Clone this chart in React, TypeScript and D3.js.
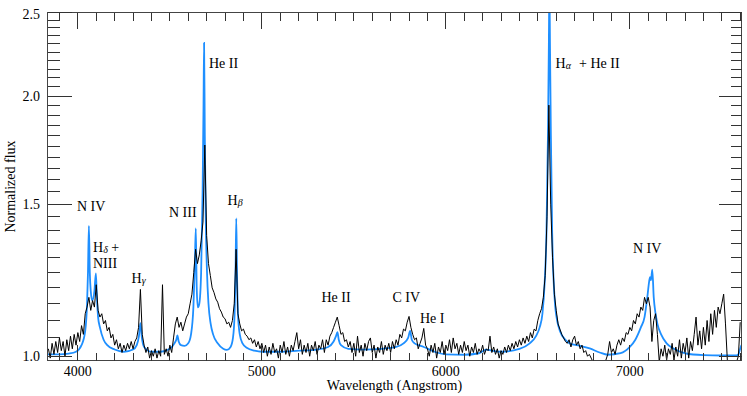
import React from "react";
import * as d3 from "d3";

// observed spectrum, sampled every 10 A starting at 3840 A
const obsStart = 3840;
const obsStep = 10;
const obsA = [
  1.02, 0.995, 1.035, 1.005, 1.04, 1.01, 1.05, 1.015, 1.04, 1.0,
  1.045, 1.015, 1.055, 1.02, 1.06, 1.03, 1.065, 1.04, 1.085, 1.06,
  1.12, 1.14, 1.17, 1.13, 1.16, 1.14, 1.21, 1.13, 1.11, 1.12,
  1.09, 1.1, 1.07, 1.08, 1.05, 1.06, 1.03, 1.045, 1.02, 1.035,
  1.01, 1.03, 1.015, 1.035, 1.02, 1.04, 1.02, 1.04, 1.05, 1.08,
];
const obsB = [
  1.195, 1.06, 1.03, 1.01, 1.025, 0.995, 1.015, 1.0, 1.02, 0.995,
  1.015, 1.0, 1.21, 1.005, 1.02, 1.0, 1.03, 1.01, 1.05, 1.09,
  1.11, 1.08, 1.095, 1.07, 1.09, 1.11, 1.12, 1.15, 1.18, 1.25,
  1.33, 1.28, 1.31, 1.36, 1.43, 1.756, 1.38, 1.28, 1.24, 1.2,
  1.185, 1.165, 1.155, 1.135, 1.125, 1.11, 1.105, 1.09, 1.095, 1.08,
];
const obsC = [
  1.1, 1.15, 1.33, 1.12, 1.09, 1.07, 1.075, 1.06, 1.055, 1.045,
  1.05, 1.035, 1.045, 1.025, 1.04, 1.02, 1.035, 1.01, 1.03, 1.0,
  1.025, 1.005, 1.035, 1.01, 1.02, 0.995, 1.03, 1.01, 1.04, 1.005,
  1.025, 1.0, 1.03, 1.015, 1.04, 1.065, 1.02, 1.045, 1.005, 1.03,
  1.01, 1.035, 1.0, 1.03, 1.015, 1.04, 1.005, 1.03, 1.02, 1.045,
];
const obsD = [
  1.01, 1.045, 1.03, 1.055, 1.065, 1.08, 1.095, 1.11, 1.085, 1.06,
  1.065, 1.04, 1.045, 1.025, 1.04, 1.01, 1.035, 1.0, 1.055, 1.01,
  1.03, 1.0, 1.035, 1.015, 1.04, 1.05, 1.01, 1.03, 0.995, 1.025,
  1.01, 1.04, 1.005, 1.03, 1.015, 1.035, 1.01, 1.04, 1.02, 1.045,
  1.03, 1.06, 1.05, 1.075, 1.07, 1.095, 1.112, 1.08, 1.06, 1.045,
];
const obsE = [
  1.05, 1.02, 1.035, 1.05, 1.077, 1.03, 1.02, 1.0, 1.03, 1.01,
  1.035, 0.995, 1.025, 1.01, 1.04, 1.005, 1.03, 1.015, 1.045, 1.01,
  1.05, 1.02, 1.035, 1.005, 1.03, 1.01, 1.04, 1.015, 1.03, 1.0,
  1.025, 1.01, 1.035, 1.005, 1.02, 1.01, 1.03, 1.005, 1.02, 1.015,
  1.055, 1.01, 1.025, 1.005, 1.02, 0.995, 1.015, 1.005, 1.025, 1.01,
];
const obsF = [
  1.03, 1.015, 1.035, 1.02, 1.04, 1.025, 1.045, 1.03, 1.05, 1.035,
  1.055, 1.04, 1.065, 1.05, 1.075, 1.07, 1.1, 1.12, 1.135, 1.17,
  1.24, 1.45, 1.953, 1.5, 1.3, 1.18, 1.13, 1.09, 1.075, 1.06,
  1.05, 1.04, 1.035, 1.045, 1.025, 1.045, 1.055, 1.03, 1.04, 1.02,
  1.03, 1.01, 1.015, 1.0, 1.005, 0.995, 0.985, 0.98, 0.98, 0.975,
];
const obsG = [
  0.98, 0.975, 0.98, 0.99, 1.005, 1.04, 1.01, 1.02, 1.005, 1.03,
  1.045, 1.03, 1.05, 1.04, 1.065, 1.06, 1.08, 1.07, 1.1, 1.09,
  1.12, 1.11, 1.14, 1.13, 1.17, 1.15, 1.17, 1.14, 1.04, 1.1,
  1.12, 1.06, 0.985, 1.02, 1.0, 1.03, 0.99, 1.02, 1.005, 1.035,
  0.99, 1.025, 1.0, 1.045, 0.995, 1.035, 1.01, 1.05, 0.995, 1.04,
];
const obsH = [
  1.015, 1.06, 1.11, 1.03, 1.07, 1.02, 1.08, 1.03, 1.1, 1.04,
  1.12, 1.06, 1.13, 1.08, 1.14, 1.12, 1.15, 1.18, 1.09, 0.99,
  0.98, 0.98, 0.98, 0.98, 0.985, 1.0, 1.095,
];

// model spectrum
const modelWave = [
  3835, 3900, 3950, 3990, 4020, 4040, 4050, 4055, 4060, 4065,
  4070, 4078, 4090, 4098, 4104, 4110, 4120, 4140, 4160, 4200,
  4250, 4300, 4320, 4332, 4340, 4348, 4360, 4400, 4450, 4500,
  4525, 4535, 4541, 4548, 4560, 4580, 4600, 4615, 4628, 4636,
  4641, 4646, 4652, 4660, 4670, 4678, 4683, 4686, 4690, 4695,
  4702, 4710, 4722, 4735, 4760, 4790, 4810, 4830, 4843, 4852,
  4857, 4861, 4865, 4870, 4880, 4895, 4920, 4960, 5000, 5100,
  5200, 5300, 5360, 5390, 5403, 5411, 5418, 5430, 5470, 5550,
  5650, 5730, 5770, 5795, 5806, 5815, 5830, 5880, 5950, 6000,
  6100, 6180, 6220, 6250, 6300, 6400, 6456, 6490, 6510, 6525,
  6537, 6547, 6555, 6560, 6563, 6566, 6571, 6578, 6592, 6605,
  6620, 6650, 6673, 6728, 6782, 6836, 6880, 6950, 7000, 7030,
  7060, 7080, 7095, 7105, 7110, 7115, 7122, 7130, 7140, 7150,
  7170, 7200, 7240, 7300, 7400, 7500, 7580, 7590, 7600, 7607,
];
const modelFlux = [
  1.005, 1.005, 1.007, 1.012, 1.03, 1.07, 1.15, 1.25, 1.415, 1.25,
  1.19, 1.16, 1.19, 1.247, 1.16, 1.11, 1.08, 1.045, 1.03, 1.018,
  1.012, 1.018, 1.03, 1.055, 1.092, 1.05, 1.025, 1.012, 1.012, 1.02,
  1.035, 1.045, 1.057, 1.04, 1.03, 1.028, 1.035, 1.06, 1.14, 1.28,
  1.406, 1.2, 1.139, 1.15, 1.25, 1.55, 1.95, 2.306, 1.8, 1.45,
  1.25, 1.15, 1.09, 1.06, 1.035, 1.02, 1.017, 1.025, 1.05, 1.12,
  1.25, 1.444, 1.25, 1.12, 1.06, 1.035, 1.022, 1.015, 1.012, 1.012,
  1.015, 1.018, 1.025, 1.04, 1.055, 1.066, 1.045, 1.03, 1.02, 1.018,
  1.02, 1.025, 1.035, 1.05, 1.07, 1.045, 1.035, 1.025, 1.01, 1.005,
  1.004, 1.008, 1.018, 1.015, 1.012, 1.02, 1.035, 1.055, 1.08, 1.12,
  1.215, 1.39, 1.8, 2.3, 2.7, 2.3, 1.8, 1.39, 1.16, 1.1,
  1.07, 1.045, 1.035, 1.028, 1.021, 1.01, 1.004, 1.008, 1.025, 1.045,
  1.08, 1.11, 1.17, 1.22, 1.235, 1.225, 1.26, 1.17, 1.12, 1.09,
  1.06, 1.035, 1.02, 1.008, 1.003, 1.002, 1.002, 1.005, 1.02, 1.03,
];

const xMajorTicks = [4000, 5000, 6000, 7000];
const yMajorTicks = [1.0, 1.5, 2.0, 2.5];
const yTickLabels = ["1.0", "1.5", "2.0", "2.5"];

const xLabel = "Wavelength (Angstrom)";
const yLabel = "Normalized flux";

const left = 47.5, right = 741.5, top = 12.5, bottom = 360.5;
const serif = "Liberation Serif, DejaVu Serif, serif";

export default function App() {
  const x = d3.scaleLinear().domain([3835, 7607]).range([left, right]);
  const y = d3.scaleLog().domain([0.9887, 2.5]).range([bottom, top]);

  const obsFlux = [...obsA, ...obsB, ...obsC, ...obsD, ...obsE, ...obsF, ...obsG, ...obsH];
  const observed: [number, number][] = obsFlux.map((f, i) => [obsStart + i * obsStep, f]);
  const model: [number, number][] = modelWave.map((w, i) => [w, modelFlux[i]]);

  const obsLine = d3
    .line<[number, number]>()
    .x((d) => x(d[0]))
    .y((d) => y(d[1]));
  const modelLine = d3
    .line<[number, number]>()
    .x((d) => x(d[0]))
    .y((d) => y(d[1]))
    .curve(d3.curveMonotoneX);

  const xMinor = d3.range(3900, 7601, 100).filter((v) => !xMajorTicks.includes(v));
  const yMinor = d3.range(20, 51).map((v) => v / 20).filter((v) => v % 0.5 !== 0);

  const tickColor = "#333";
  const fs = 14;

  return (
    <svg
      width={747}
      height={396}
      style={{ position: "absolute", left: 0, top: 0, background: "#fff", fontFamily: serif }}
    >
      <defs>
        <clipPath id="plotClip">
          <rect x={left} y={top} width={right - left} height={bottom - top} />
        </clipPath>
      </defs>

      <g clipPath="url(#plotClip)">
        <path d={modelLine(model) || ""} fill="none" stroke="#1e8fff" strokeWidth={1.8} />
        <path d={obsLine(observed) || ""} fill="none" stroke="#000" strokeWidth={1} />
      </g>

      {/* frame */}
      <rect
        x={left}
        y={top}
        width={right - left}
        height={bottom - top}
        fill="none"
        stroke="#444"
        strokeWidth={1}
        shapeRendering="crispEdges"
      />

      {/* ticks */}
      <g stroke={tickColor} strokeWidth={1} shapeRendering="crispEdges">
        {xMajorTicks.map((t) => (
          <g key={"xM" + t}>
            <line x1={x(t)} x2={x(t)} y1={bottom} y2={bottom - 16} />
            <line x1={x(t)} x2={x(t)} y1={top} y2={top + 16} />
          </g>
        ))}
        {xMinor.map((t) => (
          <g key={"xm" + t}>
            <line x1={x(t)} x2={x(t)} y1={bottom} y2={bottom - 8} />
            <line x1={x(t)} x2={x(t)} y1={top} y2={top + 8} />
          </g>
        ))}
        {yMajorTicks.map((t) => (
          <g key={"yM" + t}>
            <line x1={left} x2={left + 24} y1={y(t)} y2={y(t)} />
            <line x1={right} x2={right - 23} y1={y(t)} y2={y(t)} />
          </g>
        ))}
        {yMinor.map((t) => (
          <g key={"ym" + t}>
            <line x1={left} x2={left + 12} y1={y(t)} y2={y(t)} />
            <line x1={right} x2={right - 11} y1={y(t)} y2={y(t)} />
          </g>
        ))}
      </g>

      {/* tick labels */}
      <g fontSize={fs} fill="#000">
        {xMajorTicks.map((t) => (
          <text key={"xl" + t} x={x(t)} y={376} textAnchor="middle">
            {t}
          </text>
        ))}
        {yMajorTicks.map((t, i) => (
          <text key={"yl" + t} x={40} y={y(t) + (t === 2.5 ? 2 : 0)} dy="0.35em" textAnchor="end">
            {yTickLabels[i]}
          </text>
        ))}
      </g>

      {/* axis titles */}
      <text x={(left + right) / 2} y={390} textAnchor="middle" fontSize={fs}>
        {xLabel}
      </text>
      <text transform={`translate(15,${(top + bottom) / 2}) rotate(-90)`} textAnchor="middle" fontSize={fs}>
        {yLabel}
      </text>

      {/* line identifications */}
      <g fontSize={fs} fill="#000">
        <text x={77} y={211}>N IV</text>
        <text x={93} y={252}>
          H<tspan fontSize={10} fontStyle="italic" dy={1}>δ</tspan>
          <tspan dy={-1}> +</tspan>
        </text>
        <text x={93} y={268}>NIII</text>
        <text x={131.5} y={283}>
          H<tspan fontSize={10} fontStyle="italic" dy={1}>γ</tspan>
        </text>
        <text x={169} y={217}>N III</text>
        <text x={227.5} y={205}>
          H<tspan fontSize={10} fontStyle="italic" dy={1}>β</tspan>
        </text>
        <text x={209} y={68}>He II</text>
        <text x={321.5} y={302}>He II</text>
        <text x={392.5} y={302}>C IV</text>
        <text x={420} y={323}>He I</text>
        <text x={555.5} y={68}>
          H<tspan fontSize={10} fontStyle="italic" dy={1}>α</tspan>
          <tspan dy={-1} x={579}>+ He II</tspan>
        </text>
        <text x={633} y={253}>N IV</text>
      </g>
    </svg>
  );
}
